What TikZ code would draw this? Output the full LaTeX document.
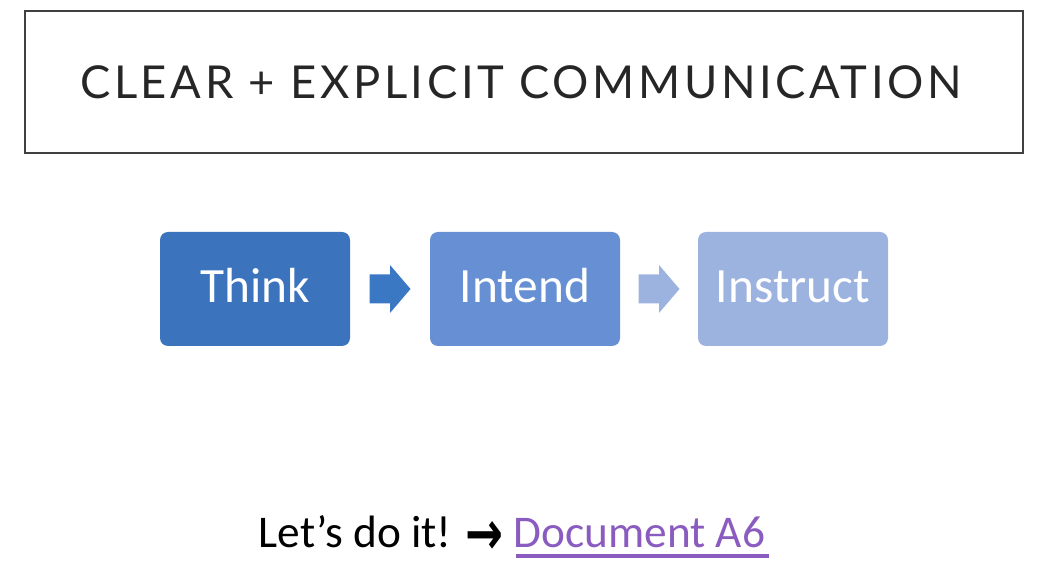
\documentclass[tikz,border=0pt]{standalone}
\usepackage{fontspec}
\setmainfont{Carlito}
\newfontfamily\titlefont[LetterSpace=8]{Lato}
\newfontfamily\symfont{DejaVu Sans}
\usetikzlibrary{positioning,calc}
\definecolor{thinkblue}{HTML}{3B73BD}
\definecolor{intendblue}{HTML}{6690D3}
\definecolor{instructblue}{HTML}{9CB3E0}
\definecolor{arrowblue}{HTML}{3B78C4}
\definecolor{titlegray}{HTML}{262626}
\definecolor{framegray}{HTML}{404040}
\definecolor{linkpurple}{HTML}{8A5CBF}
\tikzset{every picture/.style={line width=0.75pt}}
\tikzset{
  stepbox/.style={rounded corners=6pt, minimum width=142.5pt, minimum height=85.5pt, inner sep=0pt, outer sep=0pt, text=white, text height=27pt, text depth=7pt, font=\fontsize{37}{40}\selectfont},
  blockarrow/.pic={\fill (-20.5,-14.5) -- (0,-14.5) -- (0,-24) -- (20.5,0) -- (0,24) -- (0,14.5) -- (-20.5,14.5) -- cycle;}
}

\begin{document}
\begin{tikzpicture}[x=0.75pt,y=0.75pt,yscale=-1,xscale=1]
	\useasboundingbox (0,0) rectangle (1058,584);

	%Shape: Rectangle [id:title]
	\draw [color=framegray, line width=1.5pt] (25,11) rectangle (1023,153) ;
	% Text Node
	\draw (521,82) node [inner sep=0pt, text=titlegray] (title) {\titlefont\fontsize{34}{40}\selectfont CLEAR + EXPLICIT COMMUNICATION};

	%Shape: Rounded Rect [id:think]
	\node [stepbox, fill=thinkblue] (think) at (255,289) {Think};
	%Shape: Rounded Rect [id:intend]
	\node [stepbox, fill=intendblue, right=60pt of think] (intend) {Intend};
	%Shape: Rounded Rect [id:instruct]
	\node [stepbox, fill=instructblue, right=58.5pt of intend] (instruct) {Instruct};

	%Shape: Right Arrow [id:arrowA]
	\coordinate (arrowA) at ($(think.east)!0.5!(intend.west)$);
	\pic [fill=arrowblue] at (arrowA) {blockarrow};
	%Shape: Right Arrow [id:arrowB]
	\coordinate (arrowB) at ($(intend.east)!0.5!(instruct.west)$);
	\pic [fill=instructblue] at (arrowB) {blockarrow};

	% Text Node
	\draw (512,548) node [anchor=base, inner sep=0pt, font=\fontsize{34}{40}\selectfont] (letsdo) {Let’s do it! \raisebox{-5pt}{\scalebox{1}[1.35]{\symfont\bfseries\fontsize{34}{36}\selectfont →}} \textcolor{linkpurple}{Document A6}};
	%Straight Lines [id:link]
	\draw [color=linkpurple, line width=2.5pt] (516,556) -- (769,556) ;

\end{tikzpicture}
\end{document}
